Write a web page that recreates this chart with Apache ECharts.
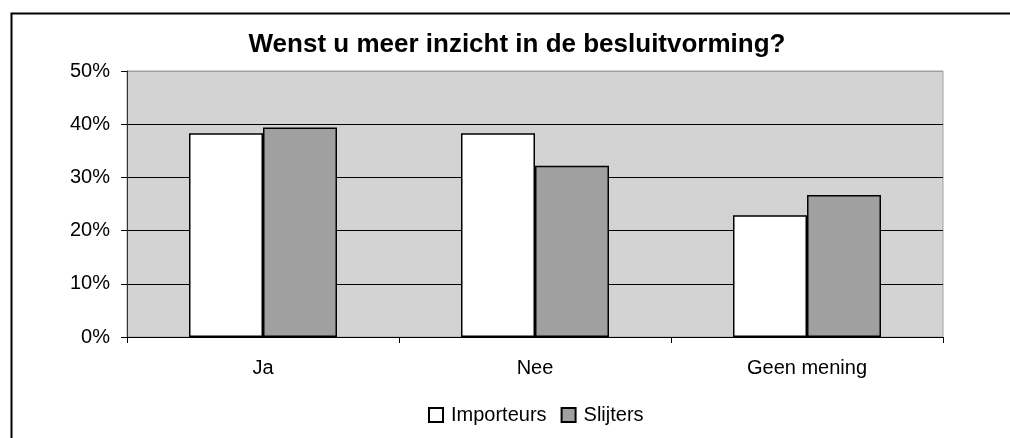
<!DOCTYPE html>
<html>
<head>
<meta charset="utf-8">
<script src="https://cdn.jsdelivr.net/npm/echarts@6/dist/echarts.min.js"></script>
<style>
  html, body { margin: 0; padding: 0; background: #fff; }
  #main { width: 1010px; height: 438px; }
</style>
</head>
<body>
<div id="main"></div>
<script>
var categories = ['Ja', 'Nee', 'Geen mening'];
var importeurs = [38.3, 38.3, 22.9];
var slijters = [39.4, 32.2, 26.7];
var yTicks = [0, 10, 20, 30, 40, 50];

var font = '"Liberation Sans", Arial, sans-serif';
var myChart = echarts.init(document.getElementById('main'));

myChart.setOption({
  animation: false,
  textStyle: { fontFamily: font },
  title: {
    text: 'Wenst u meer inzicht in de besluitvorming?',
    left: 512,
    textAlign: 'center',
    top: 27,
    textStyle: { fontSize: 26, fontWeight: 'bold', color: '#000', fontFamily: font }
  },
  graphic: [{
    type: 'rect',
    left: 9, top: 11,
    shape: { width: 1010, height: 440 },
    style: { fill: 'none', stroke: '#000', lineWidth: 2 },
    silent: true
  }],
  legend: {
    bottom: 8,
    left: 423,
    itemWidth: 14,
    itemHeight: 14,
    itemGap: 14,
    icon: 'rect',
    textStyle: { fontSize: 20, color: '#000', fontFamily: font, padding: [0, 0, 0, 3] },
    data: ['Importeurs', 'Slijters']
  },
  grid: {
    left: 127, right: 67, top: 71, bottom: 101,
    show: true,
    backgroundColor: '#d3d3d3',
    borderColor: '#a0a0a0',
    borderWidth: 1
  },
  xAxis: {
    type: 'category',
    data: categories,
    axisLine: { lineStyle: { color: '#000', width: 1 } },
    axisTick: { show: true, length: 6, lineStyle: { color: '#000' } },
    axisLabel: { fontSize: 20, color: '#000', margin: 21, fontFamily: font }
  },
  yAxis: {
    type: 'value',
    min: yTicks[0],
    max: yTicks[yTicks.length - 1],
    interval: 10,
    axisLine: { show: true, lineStyle: { color: '#333', width: 1 } },
    axisTick: { show: true, length: 6, lineStyle: { color: '#000' } },
    axisLabel: { fontSize: 20, color: '#000', margin: 17, formatter: '{value}%', fontFamily: font },
    splitLine: {
      show: true,
      lineStyle: { color: ['#000', '#000', '#000', '#000', '#000', '#a0a0a0'], width: 1 }
    }
  },
  series: [
    {
      name: 'Importeurs',
      type: 'bar',
      data: importeurs,
      barWidth: 74,
      barGap: '0%',
      itemStyle: { color: '#ffffff', borderColor: '#000', borderWidth: 1.5 }
    },
    {
      name: 'Slijters',
      type: 'bar',
      data: slijters,
      barWidth: 74,
      itemStyle: { color: '#a0a0a0', borderColor: '#000', borderWidth: 1.5 }
    }
  ]
});
</script>
</body>
</html>
